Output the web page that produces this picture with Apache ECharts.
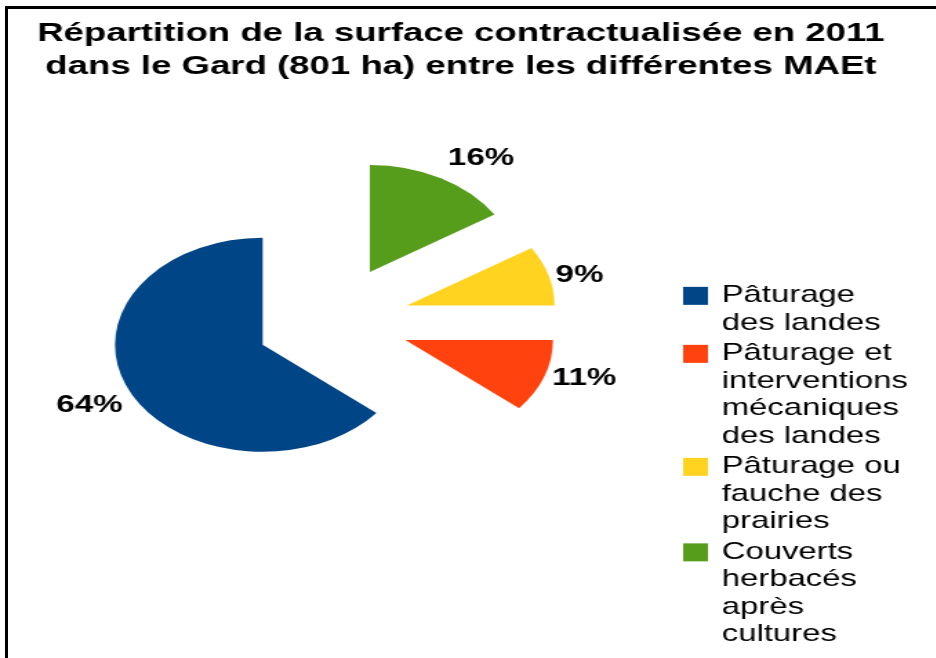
<!DOCTYPE html>
<html>
<head>
<meta charset="utf-8">
<script src="https://cdn.jsdelivr.net/npm/echarts@6/dist/echarts.min.js"></script>
<style>
  html, body { margin: 0; padding: 0; background: #fff; width: 936px; height: 658px; overflow: hidden; }
  #frame { position: absolute; left: 5px; top: 6px; width: 931px; height: 652px;
           border-left: 3px solid #000; border-top: 3px solid #000; box-sizing: border-box; }
  /* the chart is laid out narrow and stretched horizontally, like the exported slide */
  #chart { position: absolute; left: 0; top: 0; width: 678px; height: 658px;
           transform-origin: 0 0; transform: scaleX(1.38); }
</style>
</head>
<body>
<div id="frame"></div>
<div id="chart"></div>
<script>
// MAEt categories (legend order) and their share of the 801 ha
const categories = [
  'Pâturage des landes',
  'Pâturage et interventions mécaniques des landes',
  'Pâturage ou fauche des prairies',
  'Couverts herbacés après cultures'
];
const legendLines = [
  ['Pâturage', 'des landes'],
  ['Pâturage et', 'interventions', 'mécaniques', 'des landes'],
  ['Pâturage ou', 'fauche des', 'prairies'],
  ['Couverts', 'herbacés', 'après', 'cultures']
];
const shares = [64, 11, 9, 16];
const colors = ['#004586', '#ff420e', '#ffd320', '#579d1c'];
// slices are drawn clockwise from 12 o'clock in this order
const sliceOrder = [3, 2, 1, 0];

// label leader geometry per slice (line hidden; only places the text)
const labelGeom = {
  0: { length: 35, length2: -32 },
  1: { length: 7, length2: -6 },
  2: { length: 0, length2: 0 },
  3: { length: 23, length2: -11 }
};

const FONT = '"Liberation Sans", Arial, sans-serif';
const LEGEND_FS = 23.8;
const LINE_H = 27.5;
const ICON = 18;

const pieData = sliceOrder.map(i => ({
  name: categories[i],
  value: shares[i],
  selected: true,
  itemStyle: { color: colors[i] },
  labelLine: { show: false, length: labelGeom[i].length, length2: labelGeom[i].length2 }
}));

// one legend block per category; blank lines above the text keep the
// swatch level with the first line (legend text is centred on the icon)
const legends = [];
let iconTop = 285;
categories.forEach((name, i) => {
  const n = legendLines[i].length;
  const lead = new Array(n - 1).fill('');
  legends.push({
    data: [{ name: name, icon: 'rect', itemStyle: { color: colors[i] } }],
    orient: 'vertical',
    left: 495,
    top: iconTop + ICON / 2 - (n - 1) * LINE_H - LEGEND_FS / 2,
    padding: 0,
    itemWidth: ICON,
    itemHeight: ICON,
    selectedMode: false,
    formatter: () => lead.concat(legendLines[i]).join('\n'),
    textStyle: {
      fontFamily: FONT,
      fontSize: LEGEND_FS,
      color: '#000',
      lineHeight: LINE_H,
      padding: [0, 0, 0, 5]
    }
  });
  iconTop += n * LINE_H + 3;
});

const chart = echarts.init(document.getElementById('chart'), null, { renderer: 'canvas' });
chart.setOption({
  animation: false,
  backgroundColor: 'transparent',
  title: {
    text: 'Répartition de la surface contractualisée en 2011\ndans le Gard (801 ha) entre les différentes MAEt',
    left: 334,
    textAlign: 'center',
    top: 17,
    padding: 0,
    textStyle: {
      fontFamily: FONT,
      fontWeight: 'bold',
      fontSize: 26.5,
      lineHeight: 33,
      color: '#000'
    }
  },
  legend: legends,
  series: [{
    type: 'pie',
    center: [241, 321],
    radius: 107,
    startAngle: 90,
    clockwise: true,
    selectedMode: 'multiple',
    selectedOffset: 56,
    avoidLabelOverlap: false,
    silent: true,
    emphasis: { disabled: true },
    select: { itemStyle: { borderWidth: 0 } },
    label: {
      show: true,
      position: 'outside',
      formatter: p => p.value + '%',
      fontFamily: FONT,
      fontWeight: 'bold',
      fontSize: 24,
      color: '#000',
      distanceToLabelLine: 5
    },
    data: pieData
  }]
});
</script>
</body>
</html>
